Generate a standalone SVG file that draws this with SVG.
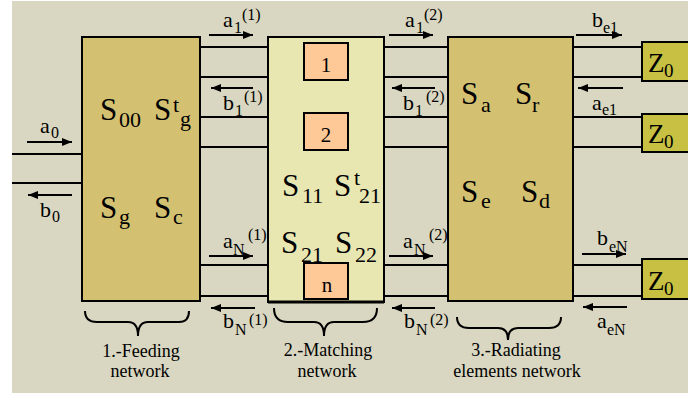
<svg xmlns="http://www.w3.org/2000/svg" width="688" height="394" viewBox="0 0 688 394" font-family="'Liberation Serif', 'DejaVu Serif', 'Times New Roman', serif">
<style>
text, tspan{font-family:'Liberation Serif','DejaVu Serif','Times New Roman',serif;fill:#000}
.w{stroke:#000;stroke-width:2;fill:none}
.ar{stroke:#000;stroke-width:2;fill:none;marker-end:url(#ah)}
.box{stroke:#000;stroke-width:2}
.L{font-size:22px}
.s{font-size:16px}
.B{font-size:31px}
.bs{font-size:22px}
.cap{font-size:18px;text-anchor:middle}
.num{font-size:21px;text-anchor:middle}
.z{font-size:27px}
.zs{font-size:19px}
</style>
<defs>
<marker id="ah" markerUnits="userSpaceOnUse" markerWidth="12" markerHeight="10" refX="10" refY="4" orient="auto">
<path d="M0,0 L10,4 L0,8 Z" fill="#000"/>
</marker>
</defs>
<rect x="12" y="1" width="676" height="392" fill="#D9D7C1"/>

<g id="connectors">
<line class="w" x1="12" y1="154" x2="82" y2="154"/>
<line class="w" x1="12" y1="183" x2="82" y2="183"/>
<line class="w" x1="200" y1="47" x2="268" y2="47"/>
<line class="w" x1="200" y1="77" x2="268" y2="77"/>
<line class="w" x1="200" y1="117" x2="268" y2="117"/>
<line class="w" x1="200" y1="147" x2="268" y2="147"/>
<line class="w" x1="200" y1="265" x2="268" y2="265"/>
<line class="w" x1="200" y1="296" x2="268" y2="296"/>
<line class="w" x1="384" y1="47" x2="448" y2="47"/>
<line class="w" x1="384" y1="77" x2="448" y2="77"/>
<line class="w" x1="384" y1="117" x2="448" y2="117"/>
<line class="w" x1="384" y1="147" x2="448" y2="147"/>
<line class="w" x1="384" y1="265" x2="448" y2="265"/>
<line class="w" x1="384" y1="296" x2="448" y2="296"/>
<line class="w" x1="573" y1="47" x2="642" y2="47"/>
<line class="w" x1="573" y1="77" x2="642" y2="77"/>
<line class="w" x1="573" y1="117" x2="642" y2="117"/>
<line class="w" x1="573" y1="147" x2="642" y2="147"/>
<line class="w" x1="573" y1="265" x2="642" y2="265"/>
<line class="w" x1="573" y1="296" x2="642" y2="296"/>
<line class="ar" x1="27" y1="142" x2="72" y2="142"/>
<line class="ar" x1="72" y1="195" x2="28" y2="195"/>
<line class="ar" x1="209" y1="35" x2="253" y2="35"/>
<line class="ar" x1="253" y1="88" x2="211" y2="88"/>
<line class="ar" x1="209" y1="256" x2="253" y2="256"/>
<line class="ar" x1="255" y1="308" x2="211" y2="308"/>
<line class="ar" x1="389" y1="35" x2="433" y2="35"/>
<line class="ar" x1="435" y1="88" x2="392" y2="88"/>
<line class="ar" x1="389" y1="256" x2="433" y2="256"/>
<line class="ar" x1="435" y1="308" x2="392" y2="308"/>
<line class="ar" x1="576" y1="35" x2="622" y2="35"/>
<line class="ar" x1="623" y1="88" x2="578" y2="88"/>
<line class="ar" x1="582" y1="254" x2="626" y2="254"/>
<line class="ar" x1="627" y1="307" x2="583" y2="307"/>
</g>

<g id="wave-labels">
<text class="L" x="40" y="133">a<tspan class="s" x="51" y="138">0</tspan></text>
<text class="L" x="40" y="217">b<tspan class="s" x="52" y="222">0</tspan></text>
<text class="L" x="223" y="27">a<tspan class="s" x="234" y="33">1</tspan><tspan class="s" x="242" y="20">(1)</tspan></text>
<text class="L" x="223" y="110">b<tspan class="s" x="235" y="116">1</tspan><tspan class="s" x="244" y="102">(1)</tspan></text>
<text class="L" x="223" y="248">a<tspan class="s" x="233" y="255">N</tspan><tspan class="s" x="248" y="240">(1)</tspan></text>
<text class="L" x="223" y="328">b<tspan class="s" x="235" y="335">N</tspan><tspan class="s" x="249" y="325">(1)</tspan></text>
<text class="L" x="405" y="27">a<tspan class="s" x="416" y="33">1</tspan><tspan class="s" x="424" y="20">(2)</tspan></text>
<text class="L" x="403" y="110">b<tspan class="s" x="415" y="116">1</tspan><tspan class="s" x="426" y="102">(2)</tspan></text>
<text class="L" x="403" y="248">a<tspan class="s" x="414" y="255">N</tspan><tspan class="s" x="429" y="240">(2)</tspan></text>
<text class="L" x="404" y="328">b<tspan class="s" x="416" y="335">N</tspan><tspan class="s" x="430" y="325">(2)</tspan></text>
<text class="L" x="592" y="27">b<tspan class="s" x="603" y="33">e1</tspan></text>
<text class="L" x="592" y="110">a<tspan class="s" x="602" y="115">e1</tspan></text>
<text class="L" x="597" y="245">b<tspan class="s" x="609" y="252">eN</tspan></text>
<text class="L" x="597" y="328">a<tspan class="s" x="607" y="335">eN</tspan></text>
</g>

<g id="feeding">
<rect class="box" x="82" y="37" width="118" height="264" fill="#D4C071"/>
<text class="B" x="100" y="120">S<tspan class="bs" x="119" y="127">00</tspan></text>
<text class="B" x="154" y="120">S<tspan class="bs" x="173" y="112">t</tspan><tspan class="bs" x="180" y="126">g</tspan></text>
<text class="B" x="100" y="218">S<tspan class="bs" x="119" y="224">g</tspan></text>
<text class="B" x="154" y="218">S<tspan class="bs" x="173" y="224">c</tspan></text>
<path class="w" d="M85,311 Q85,322 97,322 L128,322 Q138,322 138,336 Q138,322 148,322 L179,322 Q189,322 189,311"/>
<text class="cap" x="141" y="357">1.-Feeding</text>
<text class="cap" x="140" y="377">network</text>
</g>

<g id="matching">
<rect class="box" x="268" y="37" width="116" height="265" fill="#E8E6B1"/>
<line x1="268" y1="302" x2="384" y2="302" stroke="#000" stroke-width="3"/>
<rect class="box" x="304" y="43" width="44" height="37" fill="#FFC897"/>
<text class="num" x="326" y="72">1</text>
<rect class="box" x="304" y="113" width="44" height="37" fill="#FFC897"/>
<text class="num" x="326" y="142">2</text>
<rect class="box" x="304" y="263" width="44" height="36" fill="#FFC897"/>
<text class="num" x="327" y="292">n</text>
<text class="B" x="282" y="196">S<tspan class="bs" x="302" y="203">11</tspan></text>
<text class="B" x="334" y="196">S<tspan class="bs" x="354" y="185">t</tspan><tspan class="bs" x="359" y="203">21</tspan></text>
<text class="B" x="281" y="253">S<tspan class="bs" x="301" y="262">21</tspan></text>
<text class="B" x="335" y="253">S<tspan class="bs" x="355" y="262">22</tspan></text>
<path class="w" d="M274,308 Q274,322 288,322 L314,322 Q324,322 324,336 Q324,322 334,322 L363,322 Q377,322 377,308"/>
<text class="cap" x="328" y="356">2.-Matching</text>
<text class="cap" x="327" y="377">network</text>
</g>

<g id="radiating">
<rect class="box" x="448" y="37" width="125" height="264" fill="#D4C071"/>
<text class="B" x="461" y="104">S<tspan class="bs" x="481" y="112">a</tspan></text>
<text class="B" x="515" y="104">S<tspan class="bs" x="532" y="112">r</tspan></text>
<text class="B" x="461" y="202">S<tspan class="bs" x="481" y="208">e</tspan></text>
<text class="B" x="521" y="202">S<tspan class="bs" x="539" y="208">d</tspan></text>
<path class="w" d="M457,317 Q457,328 469,328 L498,328 Q508,328 508,340 Q508,328 518,328 L549,328 Q561,328 561,317"/>
<text class="cap" x="516" y="356">3.-Radiating</text>
<text class="cap" x="517" y="377">elements network</text>
</g>

<g id="z1">
<rect class="box" x="642" y="42" width="50" height="39" fill="#C8C042"/>
<text class="z" x="648" y="72">Z<tspan class="zs" x="664" y="77">0</tspan></text>
</g>
<g id="z2">
<rect class="box" x="642" y="114" width="50" height="38" fill="#C8C042"/>
<text class="z" x="648" y="143">Z<tspan class="zs" x="664" y="148">0</tspan></text>
</g>
<g id="z3">
<rect class="box" x="642" y="259" width="50" height="40" fill="#C8C042"/>
<text class="z" x="648" y="290">Z<tspan class="zs" x="664" y="295">0</tspan></text>
</g>
</svg>
